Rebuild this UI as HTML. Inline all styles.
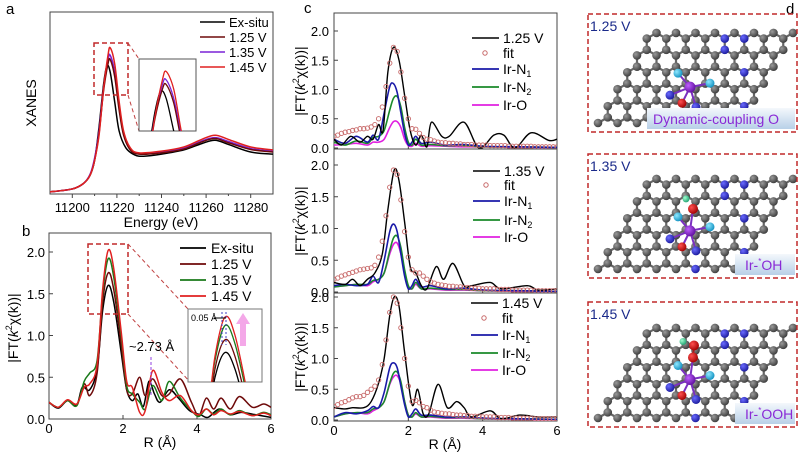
<!DOCTYPE html>
<html><head><meta charset="utf-8"><style>
html,body{margin:0;padding:0;background:#fff;overflow:hidden;width:800px;height:453px;}
svg{display:block;font-family:"Liberation Sans",sans-serif;}
</style></head><body>
<svg id="fig" width="800" height="453" viewBox="0 0 800 453" xmlns="http://www.w3.org/2000/svg">
<defs>
<clipPath id="clipA"><rect x="50" y="12" width="223" height="182"/></clipPath>
<clipPath id="clipAi"><rect x="139" y="59" width="57" height="72"/></clipPath>
<clipPath id="clipB"><rect x="49" y="233" width="222" height="186"/></clipPath>
<clipPath id="clipBi"><rect x="188" y="309" width="74" height="73"/></clipPath>
<clipPath id="clipC1"><rect x="334" y="13" width="223" height="136"/></clipPath>
<clipPath id="clipC2"><rect x="334" y="149" width="223" height="144"/></clipPath>
<clipPath id="clipC3"><rect x="334" y="293" width="223" height="128"/></clipPath>
<radialGradient id="gC" cx="0.35" cy="0.35" r="0.7"><stop offset="0" stop-color="#9a9a9a"/><stop offset="1" stop-color="#3a3a3a"/></radialGradient>
<radialGradient id="gN" cx="0.35" cy="0.35" r="0.7"><stop offset="0" stop-color="#6a6aff"/><stop offset="1" stop-color="#1a1a9a"/></radialGradient>
<radialGradient id="gIr" cx="0.35" cy="0.35" r="0.7"><stop offset="0" stop-color="#c060ff"/><stop offset="1" stop-color="#6010a0"/></radialGradient>
<radialGradient id="gO" cx="0.35" cy="0.35" r="0.7"><stop offset="0" stop-color="#ff5050"/><stop offset="1" stop-color="#a00000"/></radialGradient>
<radialGradient id="gCy" cx="0.35" cy="0.35" r="0.7"><stop offset="0" stop-color="#90e8ff"/><stop offset="1" stop-color="#1090c0"/></radialGradient>
<radialGradient id="gH" cx="0.35" cy="0.35" r="0.7"><stop offset="0" stop-color="#a0ffd0"/><stop offset="1" stop-color="#20a070"/></radialGradient>
<linearGradient id="gLab" x1="0" y1="0" x2="0" y2="1"><stop offset="0" stop-color="#f4f8fc"/><stop offset="1" stop-color="#b8d0e8"/></linearGradient>
</defs>
<g id="root"></g>
</svg>
<script>
// ===== Panel a data (XANES) =====
const aEnergyBlack=[11190,11200,11205,11208,11210,11212,11214,11215.5,11217,11219,11221,11224,11228,11232,11240,11250,11258,11264,11270,11280,11290];
const aExsitu=[0.05,0.12,0.25,0.45,0.8,1.6,2.6,3.05,2.9,2.2,1.5,1.1,0.93,0.9,0.95,1.05,1.2,1.28,1.18,1.0,0.95];
const aEnergyV=[11190,11200,11205,11208,11210,11212,11214,11216,11217,11219,11221,11223,11226,11230,11240,11250,11258,11264,11270,11280,11290];
const a125=[0.05,0.12,0.25,0.45,0.8,1.45,2.45,3.1,3.2,2.8,2.0,1.4,1.05,0.95,0.98,1.07,1.24,1.32,1.22,1.06,1.0];
const a135=[0.05,0.12,0.25,0.47,0.85,1.5,2.5,3.2,3.3,2.9,2.1,1.45,1.08,0.97,1.0,1.09,1.26,1.34,1.25,1.08,1.02];
const a145=[0.05,0.12,0.25,0.45,0.8,1.4,2.5,3.3,3.48,3.1,2.2,1.5,1.1,0.98,1.02,1.12,1.3,1.4,1.3,1.12,1.05];
const aXTicks=[11200,11220,11240,11260,11280];

// ===== Panel b data (FT-EXAFS) =====
const bR0=[0,0.25,0.5,0.75,0.9,1.1,1.3,1.45,1.6,1.75,1.95,2.1,2.25,2.4,2.55,2.7,2.85,3.0,3.25,3.5,3.8,4.1,4.3,4.6,4.9,5.2,5.6,6];
const bExsitu=[0.2,0.13,0.22,0.17,0.38,0.35,0.6,1.3,1.6,1.4,0.8,0.35,0.22,0.3,0.15,0.45,0.3,0.2,0.35,0.25,0.1,0.05,0.02,0.12,0.05,0.08,0.05,0.02];
const bR1=[0,0.25,0.5,0.75,0.95,1.1,1.3,1.45,1.6,1.75,1.95,2.1,2.25,2.45,2.6,2.8,3.05,3.25,3.55,3.85,4.05,4.25,4.45,4.65,4.9,5.15,5.5,5.8,6];
const b125=[0.2,0.14,0.22,0.16,0.42,0.28,0.55,1.4,1.75,1.55,0.9,0.35,0.3,0.5,0.28,0.48,0.28,0.3,0.48,0.2,0.04,0.25,0.12,0.25,0.12,0.27,0.14,0.18,0.14];
const b135=[0.2,0.14,0.22,0.16,0.45,0.55,0.7,1.5,1.92,1.7,1.0,0.4,0.3,0.2,0.12,0.4,0.22,0.45,0.25,0.1,0.03,0.12,0.06,0.12,0.05,0.1,0.04,0.08,0.05];
const b145=[0.2,0.14,0.23,0.18,0.38,0.42,0.65,1.55,2.02,1.8,1.05,0.45,0.38,0.08,0.1,0.58,0.32,0.22,0.28,0.1,0.05,0.12,0.05,0.1,0.06,0.09,0.04,0.07,0.04];
const bYTicks=[0,0.5,1.0,1.5,2.0];
const bXTicks=[0,2,4,6];

// ===== Panel c data (fits) =====
const cFitR=[0,0.1,0.2,0.3,0.4,0.5,0.6,0.7,0.8,0.9,1.0,1.1,1.2,1.3,1.4,1.5,1.6,1.7,1.8,1.9,2.0,2.1,2.2,2.3,2.4,2.5,2.6,2.7,2.8,2.9,3.0,3.1,3.2,3.3,3.4,3.5,3.6,3.7,3.8,3.9,4.0,4.1,4.2,4.3,4.4,4.5,4.6,4.7,4.8,4.9,5.0,5.1,5.2,5.3,5.4,5.5,5.6,5.7,5.8,5.9,6.0];
const cFit1=[0.2,0.22,0.25,0.27,0.28,0.3,0.31,0.33,0.33,0.34,0.36,0.4,0.5,0.7,1.05,1.45,1.72,1.65,1.3,0.85,0.5,0.33,0.32,0.25,0.18,0.15,0.14,0.12,0.1,0.09,0.09,0.08,0.08,0.07,0.07,0.06,0.06,0.06,0.05,0.05,0.05,0.05,0.04,0.04,0.04,0.04,0.04,0.03,0.03,0.03,0.03,0.03,0.03,0.03,0.02,0.02,0.02,0.02,0.02,0.02,0.02];
const cFit2=[0.2,0.22,0.25,0.27,0.29,0.31,0.33,0.35,0.36,0.37,0.38,0.42,0.55,0.8,1.2,1.65,1.92,1.85,1.45,0.95,0.55,0.35,0.3,0.3,0.25,0.2,0.16,0.14,0.12,0.11,0.1,0.09,0.09,0.08,0.08,0.07,0.07,0.06,0.06,0.06,0.05,0.05,0.05,0.05,0.04,0.04,0.04,0.04,0.03,0.03,0.03,0.03,0.03,0.03,0.02,0.02,0.02,0.02,0.02,0.02,0.02];
const cFit3=[0.22,0.25,0.28,0.3,0.33,0.36,0.38,0.38,0.4,0.45,0.5,0.55,0.65,0.9,1.3,1.75,2.0,1.9,1.5,1.0,0.55,0.3,0.32,0.28,0.22,0.2,0.16,0.13,0.12,0.11,0.1,0.1,0.09,0.08,0.08,0.07,0.07,0.06,0.06,0.06,0.05,0.05,0.05,0.05,0.04,0.04,0.04,0.04,0.03,0.03,0.03,0.03,0.03,0.03,0.02,0.02,0.02,0.02,0.02,0.02,0.02];
const cExpR1=[0,0.2,0.45,0.7,0.9,1.05,1.2,1.32,1.45,1.6,1.75,1.9,2.05,2.2,2.35,2.5,2.62,2.9,3.1,3.5,3.9,4.3,4.57,4.87,5.3,5.78,6];
const cExp1=[0.15,0.05,0.2,0.1,0.2,0.15,0.4,0.3,1.3,1.72,1.5,0.9,0.3,0.05,0.22,0.02,0.44,0.2,0.2,0.44,0.0,0.22,0.22,0.0,0.26,0.13,0.15];
const cExpR2=[0,0.3,0.5,0.7,0.9,1.1,1.3,1.45,1.62,1.75,1.9,2.05,2.2,2.35,2.5,2.75,2.95,3.2,3.5,3.7,4.2,4.5,5.2,5.5,6];
const cExp2=[0.15,0.12,0.2,0.1,0.2,0.3,0.6,1.3,1.92,1.75,1.1,0.4,0.3,0.1,0.05,0.4,0.2,0.45,0.1,0.1,0.15,0.05,0.1,0.03,0.05];
const cExpR3=[0,0.3,0.5,0.8,1.0,1.2,1.35,1.5,1.62,1.75,1.9,2.1,2.25,2.4,2.55,2.8,3.05,3.3,3.5,3.7,4.2,4.5,5.0,5.5,6];
const cExp3=[0.2,0.18,0.2,0.2,0.3,0.6,1.0,1.7,2.0,1.85,1.1,0.25,0.5,0.1,0.1,0.58,0.2,0.3,0.2,0.05,0.15,0.02,0.08,0.05,0.05];
const cCompR=[0,0.3,0.6,0.9,1.05,1.2,1.35,1.5,1.6,1.7,1.8,1.9,2.0,2.1,2.2,2.35,2.6,3,3.5,4,5,6];
const cN1_1=[0.15,0.08,0.2,0.1,0.22,0.15,0.6,1.05,1.1,0.95,0.6,0.25,0.05,0.1,0.2,0.08,0.1,0.05,0.06,0.03,0.02,0.01];
const cN2_1=[0.1,0.05,0.12,0.08,0.18,0.2,0.3,0.65,0.85,0.88,0.7,0.35,0.1,0.05,0.15,0.05,0.06,0.04,0.04,0.02,0.02,0.01];
const cO_1=[0.05,0.06,0.08,0.05,0.1,0.1,0.15,0.35,0.45,0.45,0.35,0.15,0.04,0.03,0.08,0.03,0.04,0.03,0.02,0.02,0.01,0.01];
const cN1_2=[0.1,0.12,0.1,0.12,0.25,0.15,0.5,0.95,1.07,0.95,0.6,0.25,0.05,0.1,0.2,0.08,0.1,0.05,0.06,0.03,0.02,0.01];
const cN2_2=[0.08,0.1,0.12,0.12,0.18,0.2,0.3,0.65,0.85,0.88,0.7,0.35,0.1,0.05,0.15,0.05,0.06,0.04,0.04,0.02,0.02,0.01];
const cO_2=[0.08,0.1,0.12,0.1,0.16,0.2,0.3,0.6,0.75,0.77,0.6,0.3,0.08,0.05,0.12,0.05,0.05,0.03,0.03,0.02,0.01,0.01];
const cN1_3=[0.05,0.12,0.1,0.15,0.22,0.2,0.45,0.85,0.93,0.85,0.55,0.25,0.05,0.1,0.18,0.08,0.08,0.05,0.05,0.03,0.02,0.01];
const cN2_3=[0.05,0.1,0.12,0.12,0.18,0.2,0.3,0.6,0.76,0.78,0.62,0.3,0.08,0.05,0.12,0.05,0.06,0.04,0.04,0.02,0.02,0.01];
const cO_3=[0.05,0.1,0.12,0.1,0.15,0.2,0.3,0.58,0.7,0.72,0.58,0.3,0.08,0.05,0.1,0.05,0.05,0.03,0.03,0.02,0.01,0.01];
const cYTicks=[0,0.5,1.0,1.5,2.0];
const cXTicks=[0,2,4,6];

const NS='http://www.w3.org/2000/svg';
const root=document.getElementById('root');
function el(tag,attrs,parent,text){const e=document.createElementNS(NS,tag);for(const k in attrs)e.setAttribute(k,attrs[k]);if(text!==undefined)e.textContent=text;(parent||root).appendChild(e);return e;}
function scale(d0,d1,p0,p1){return v=>p0+(v-d0)*(p1-p0)/(d1-d0);}
function smooth(pts){let d='M'+pts[0][0].toFixed(2)+','+pts[0][1].toFixed(2);
 for(let i=0;i<pts.length-1;i++){const p0=pts[Math.max(0,i-1)],p1=pts[i],p2=pts[i+1],p3=pts[Math.min(pts.length-1,i+2)];
 const c1=[p1[0]+(p2[0]-p0[0])/6,p1[1]+(p2[1]-p0[1])/6],c2=[p2[0]-(p3[0]-p1[0])/6,p2[1]-(p3[1]-p1[1])/6];
 d+='C'+c1.map(n=>n.toFixed(2))+' '+c2.map(n=>n.toFixed(2))+' '+p2[0].toFixed(2)+','+p2[1].toFixed(2);}return d;}
function curve(xs,ys,sx,sy,color,w,clip,name,parent){const p=el('path',{d:smooth(xs.map((x,i)=>[sx(x),sy(ys[i])])),fill:'none',stroke:color,'stroke-width':w,'clip-path':'url(#'+clip+')'},parent);
 
 return p;}
function txt(x,y,s,opts,name){const t=el('text',Object.assign({x:x,y:y,'font-size':14,fill:'#000'},opts||{}),root,s);
 
 return t;}
function box(x,y,w,h,name){const r=el('rect',{x:x,y:y,width:w,height:h,fill:'none',stroke:'#444','stroke-width':1});
 
 return r;}
function dashRect(x,y,w,h,name,dash){const r=el('rect',{x:x,y:y,width:w,height:h,fill:'none',stroke:'#c0282a','stroke-width':1.5,'stroke-dasharray':dash||'5,3'});
 
 return r;}
function dline(x1,y1,x2,y2,name,color,dash){const l=el('line',{x1:x1,y1:y1,x2:x2,y2:y2,stroke:color||'#c04040','stroke-width':1,'stroke-dasharray':dash||'4,3'});
 
 return l;}
function ylabel(x,y,name){const t=el('text',{x:0,y:0,'font-size':14,transform:'translate('+x+','+y+') rotate(-90)','text-anchor':'middle'});
 t.innerHTML='|FT(<tspan font-style="italic">k</tspan><tspan font-size="9" dy="-6">2</tspan><tspan dy="6">χ(k))|</tspan>';
 
 }

// ===== Panel a =====
const axA=scale(11190,11290,50,273), ayA=scale(0,1,194,152);
box(50,12,223,182,'panel-a-plot-area');
txt(6,14,'a',{'font-size':15},'panel-a-letter');
aXTicks.forEach(v=>{const t=el('line',{x1:axA(v),y1:194,x2:axA(v),y2:198,stroke:'#444'});
 
 
 txt(axA(v),212,String(v),{'text-anchor':'middle','font-size':13},'x-tick-label');});
[11210,11230,11250,11270].forEach(v=>{const t=el('line',{x1:axA(v),y1:194,x2:axA(v),y2:196,stroke:'#444'});
 
 });
txt(161,227,'Energy (eV)',{'text-anchor':'middle','font-size':14},'x-axis-title-a');
const ya=el('text',{x:0,y:0,'font-size':14,transform:'translate(36,103) rotate(-90)','text-anchor':'middle'},root,'XANES');


curve(aEnergyBlack,aExsitu,axA,ayA,'#000',1.5,'clipA','series-exsitu-a');
curve(aEnergyV,a135,axA,ayA,'#7a22d6',1.6,'clipA','series-1.35v-a');
curve(aEnergyV,a125,axA,ayA,'#6e0a0a',1.5,'clipA','series-1.25v-a');
curve(aEnergyV,a145,axA,ayA,'#e02020',1.5,'clipA','series-1.45v-a');
dashRect(94,43,34,52,'zoom-region-a');
dline(128,43,139,59,'zoom-connector-a-top');dline(128,95,139,131,'zoom-connector-a-bottom');
el('rect',{x:139,y:59,width:57,height:72,fill:'#fff',stroke:'#555'});
const axAi=scale(11209.8,11224.9,139,196), ayAi=scale(2.2,3.75,131,59);
const ig=el('g',{});


curve(aEnergyBlack,aExsitu,axAi,ayAi,'#000',1.3,'clipAi','inset-exsitu-a',ig);
curve(aEnergyV,a135,axAi,ayAi,'#7a22d6',1.3,'clipAi','inset-1.35v-a',ig);
curve(aEnergyV,a125,axAi,ayAi,'#6e0a0a',1.3,'clipAi','inset-1.25v-a',ig);
curve(aEnergyV,a145,axAi,ayAi,'#e02020',1.3,'clipAi','inset-1.45v-a',ig);
const legA=[['Ex-situ','#000'],['1.25 V','#6e0a0a'],['1.35 V','#7a22d6'],['1.45 V','#e02020']];
legA.forEach((l,i)=>{const y=22+i*15;const ln=el('line',{x1:200,y1:y,x2:225,y2:y,stroke:l[1],'stroke-width':1.6});
 
 
 txt(229,y+5,l[0],{'font-size':13},'legend-entry-a');});

// ===== Panel b =====
const axB=scale(0,6,49,271), ayB=scale(0,2,419,252);
box(49,233,222,186,'panel-b-plot-area');
txt(22,236,'b',{'font-size':15},'panel-b-letter');
bYTicks.forEach(v=>{const t=el('line',{x1:49,y1:ayB(v),x2:53,y2:ayB(v),stroke:'#444'});
 
 
 txt(45,ayB(v)+5,v.toFixed(1),{'text-anchor':'end','font-size':13},'y-tick-label');});
bXTicks.forEach(v=>{const t=el('line',{x1:axB(v),y1:419,x2:axB(v),y2:415,stroke:'#444'});
 
 
 txt(axB(v),433,String(v),{'text-anchor':'middle','font-size':13},'x-tick-label');});
txt(160,447,'R (Å)',{'text-anchor':'middle','font-size':14},'x-axis-title-b');
ylabel(18,328,'y-axis-title-b');
curve(bR0,bExsitu,axB,ayB,'#000',1.5,'clipB','series-exsitu-b');
curve(bR1,b125,axB,ayB,'#6e0a0a',1.5,'clipB','series-1.25v-b');
curve(bR1,b135,axB,ayB,'#1a7a1a',1.5,'clipB','series-1.35v-b');
curve(bR1,b145,axB,ayB,'#e02020',1.5,'clipB','series-1.45v-b');
dashRect(88,244,40,70,'zoom-region-b');
dline(128,244,188,309,'zoom-connector-b-top');dline(128,314,190,382,'zoom-connector-b-bottom');
el('rect',{x:188,y:309,width:74,height:73,fill:'#fff',stroke:'#777'});
const axBi=scale(1.05,2.15,188,262), ayBi=scale(1.25,2.08,382,312);
const ig2=el('g',{});


curve(bR0,bExsitu,axBi,ayBi,'#000',1.3,'clipBi','inset-exsitu-b',ig2);
curve(bR1,b125,axBi,ayBi,'#6e0a0a',1.3,'clipBi','inset-1.25v-b',ig2);
curve(bR1,b135,axBi,ayBi,'#1a7a1a',1.3,'clipBi','inset-1.35v-b',ig2);
curve(bR1,b145,axBi,ayBi,'#e02020',1.3,'clipBi','inset-1.45v-b',ig2);
dline(222,312,222,345,'inset-b-guide-1','#4040c0','2,2');dline(226,312,226,345,'inset-b-guide-2','#4040c0','2,2');
txt(191,321,'0.05 Å',{'font-size':9},'shift-label');
el('line',{x1:214,y1:318,x2:226,y2:318,stroke:'#000','stroke-width':1});
el('polygon',{points:'240,346 246,346 246,324 250,324 243,313 236,324 240,324',fill:'#f4a8e8'});
txt(129,351,'~2.73 Å',{'font-size':13},'peak-annotation');
dline(151,357,151,396,'peak-guide-line','#9040e0','3,2');
const legB=[['Ex-situ','#000'],['1.25 V','#6e0a0a'],['1.35 V','#1a7a1a'],['1.45 V','#e02020']];
legB.forEach((l,i)=>{const y=248+i*16;const ln=el('line',{x1:180,y1:y,x2:206,y2:y,stroke:l[1],'stroke-width':1.8});
 
 
 txt(211,y+5,l[0],{'font-size':14},'legend-entry-b');});

// ===== Panel c =====
txt(304,13,'c',{'font-size':15},'panel-c-letter');
const subs=[
 {top:13,bot:149,y0:148,y2:31,clip:'clipC1',exR:cExpR1,ex:cExp1,fit:cFit1,n1:cN1_1,n2:cN2_1,o:cO_1,lab:'1.25 V',leg:[38,53,69,87,105],lx:472},
 {top:149,bot:293,y0:292,y2:165,clip:'clipC2',exR:cExpR2,ex:cExp2,fit:cFit2,n1:cN1_2,n2:cN2_2,o:cO_2,lab:'1.35 V',leg:[171,185,201,220,237],lx:473},
 {top:293,bot:421,y0:420,y2:297,clip:'clipC3',exR:cExpR3,ex:cExp3,fit:cFit3,n1:cN1_3,n2:cN2_3,o:cO_3,lab:'1.45 V',leg:[303,318,335,353,370],lx:471}];
const axC=scale(0,6,334,557);
subs.forEach((s,si)=>{
 const ay=scale(0,2,s.y0,s.y2);
 box(334,s.top,223,s.bot-s.top,'panel-c-plot-'+(si+1));
 cYTicks.forEach(v=>{const t=el('line',{x1:334,y1:ay(v),x2:338,y2:ay(v),stroke:'#444'});
  
  
  txt(329,ay(v)+5,v.toFixed(1),{'text-anchor':'end','font-size':13},'y-tick-label');});
 cXTicks.forEach(v=>{const t=el('line',{x1:axC(v),y1:s.bot,x2:axC(v),y2:s.bot-4,stroke:'#444'});
  
  });
 ylabel(305,(s.top+s.bot)/2,'y-axis-title-c'+(si+1));
 curve(cCompR,s.o,axC,ay,'#e020e0',1.6,s.clip,'series-ir-o');
 curve(cCompR,s.n2,axC,ay,'#1a8a2a',1.6,s.clip,'series-ir-n2');
 curve(cCompR,s.n1,axC,ay,'#1a1aa8',1.6,s.clip,'series-ir-n1');
 curve(s.exR,s.ex,axC,ay,'#000',1.4,s.clip,'series-experimental');
 cFitR.forEach((r,i)=>{const c=el('circle',{cx:axC(r),cy:ay(s.fit[i]),r:2.2,fill:'none',stroke:'#c86a6a','stroke-width':0.9,'clip-path':'url(#'+s.clip+')'});
  
  });
 const y=s.leg,lx=s.lx;
 el('line',{x1:lx,y1:y[0],x2:lx+27,y2:y[0],stroke:'#000','stroke-width':1.6});
 txt(lx+31,y[0]+5,s.lab,{'font-size':14},'legend-entry');
 el('circle',{cx:lx+13,cy:y[1],r:2.2,fill:'none',stroke:'#c86a6a'});
 txt(lx+31,y[1]+5,'fit',{'font-size':14},'legend-entry');
 [['#1a1aa8','Ir-N','1'],['#1a8a2a','Ir-N','2'],['#e020e0','Ir-O','']].forEach((l,k)=>{
  el('line',{x1:lx,y1:y[2+k],x2:lx+27,y2:y[2+k],stroke:l[0],'stroke-width':1.8});
  const t=txt(lx+31,y[2+k]+5,l[1],{'font-size':14},'legend-entry');
  if(l[2]){el('tspan',{'font-size':9,dy:3},t,l[2]);}
 });
});
[0,2,4,6].forEach(v=>txt(axC(v),435,String(v),{'text-anchor':'middle','font-size':13},'x-tick-label'));
txt(445,449,'R (Å)',{'text-anchor':'middle','font-size':14},'x-axis-title-c');

// ===== Panel d (structure models) =====
txt(786,14,'d',{'font-size':15},'panel-d-letter');
const panels=[{y:14,h:118,lab:'1.25 V',tag:'Dynamic-coupling O',extra:0},{y:154,h:124,lab:'1.35 V',tag:'Ir-*OH',extra:1},{y:302,h:125,lab:'1.45 V',tag:'Ir-*OOH',extra:2}];
panels.forEach((p,pi)=>{
 const g=el('g',{});
 
 
 dashRect(588,p.y,209,p.h,'model-frame-'+(pi+1),'5,3');
 const a=19.5, ox=598, oy=p.y+p.h-9;
 const atoms=[];
 for(let j=0;j<6;j++)for(let i=0;i<8;i++){
  const bx=ox+i*a+j*a/2, by=oy-j*a*0.866;
  atoms.push([bx,by]);atoms.push([bx+a/2,by-a*0.289]);
 }
 const lines=el('g',{stroke:'#666','stroke-width':2.2},g);
 for(let m=0;m<atoms.length;m++)for(let n=m+1;n<atoms.length;n++){
  const dx=atoms[m][0]-atoms[n][0],dy=atoms[m][1]-atoms[n][1];
  if(Math.hypot(dx,dy)<a*0.6){el('line',{x1:atoms[m][0],y1:atoms[m][1],x2:atoms[n][0],y2:atoms[n][1]},lines);}
 }
 const nIdx=[10,60,88,90,30,73];
 atoms.forEach((q,k)=>{el('circle',{cx:q[0],cy:q[1],r:4.3,fill:nIdx.indexOf(k)>=0?'url(#gN)':'url(#gC)'},g);});
 const cx=690, cy=p.y+p.h*0.62;
 const bonds=[[cx-12,cy-14,'url(#gCy)'],[cx+20,cy-4,'url(#gCy)'],[cx-20,cy+8,'url(#gN)'],[cx+6,cy+20,'url(#gN)'],[cx-8,cy+16,'url(#gO)']];
 bonds.forEach(b=>el('line',{x1:cx,y1:cy,x2:b[0],y2:b[1],stroke:'#7a30c0','stroke-width':2},g));
 if(p.extra>=1){el('line',{x1:cx,y1:cy,x2:cx+3,y2:cy-22,stroke:'#7a30c0','stroke-width':2},g);}
 if(p.extra===2){el('line',{x1:cx+3,y1:cy-22,x2:cx+4,y2:cy-34,stroke:'#a02020','stroke-width':2},g);}
 bonds.forEach(b=>el('circle',{cx:b[0],cy:b[1],r:4.5,fill:b[2]},g));
 if(p.extra>=1){el('circle',{cx:cx+3,cy:cy-22,r:5,fill:'url(#gO)'},g);}
 if(p.extra===1){el('circle',{cx:cx-4,cy:cy-32,r:3.5,fill:'url(#gH)'},g);}
 if(p.extra===2){el('circle',{cx:cx+4,cy:cy-34,r:5,fill:'url(#gO)'},g);el('circle',{cx:cx-7,cy:cy-38,r:3.5,fill:'url(#gH)'},g);}
 el('circle',{cx:cx,cy:cy,r:5.5,fill:'url(#gIr)'},g);
 txt(590,p.y+17,p.lab,{'font-size':14,fill:'#1a2a8a'},'model-voltage-label');
 const tw=pi===0?148:60, tx=795-tw;
 el('rect',{x:tx,y:p.y+p.h-24,width:tw,height:21,fill:'url(#gLab)'},g);
 if(pi===0){txt(tx+6,p.y+p.h-8,p.tag,{'font-size':14,fill:'#8a2ad6'},'model-tag');}
 else{const t=txt(tx+10,p.y+p.h-8,'Ir-',{'font-size':14,fill:'#8a2ad6'},'model-tag');
  el('tspan',{'font-size':8,dy:-6},t,'*');el('tspan',{dy:6},t,pi===1?'OH':'OOH');}
});
</script>
</body></html>
